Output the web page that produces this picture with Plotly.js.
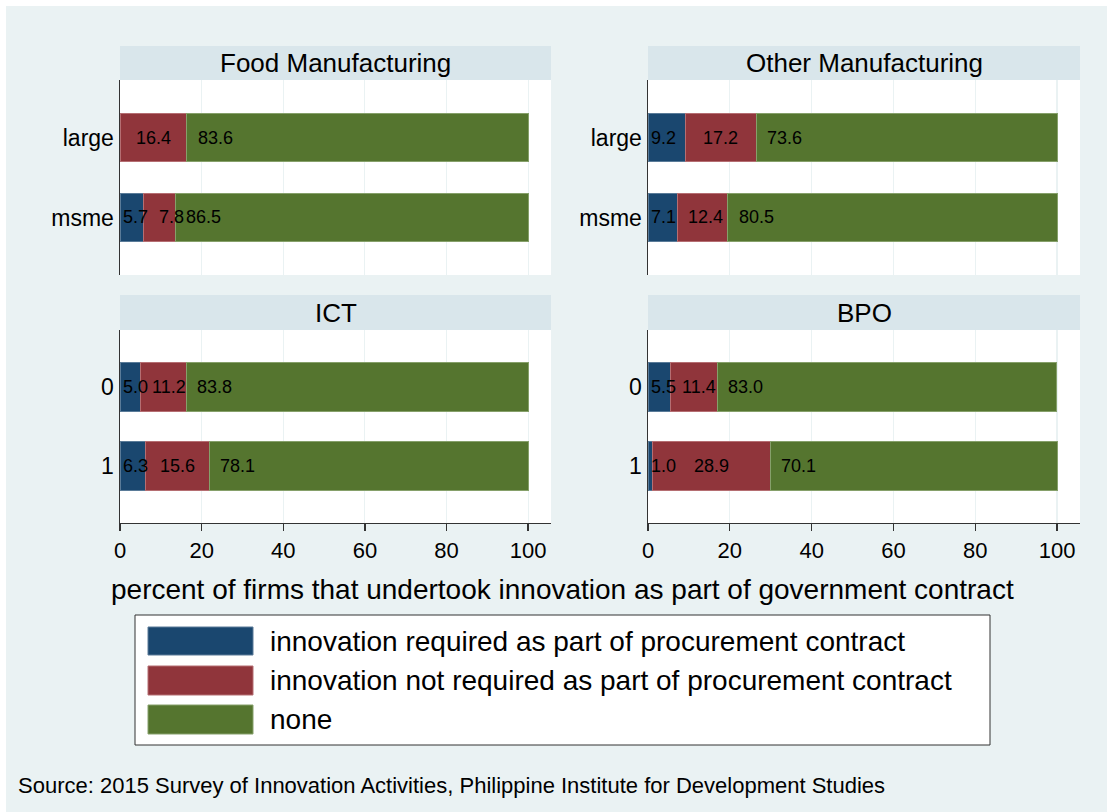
<!DOCTYPE html>
<html>
<head>
<meta charset="utf-8">
<script src="https://cdn.plot.ly/plotly-3.0.1.min.js"></script>
<style>html,body{margin:0;padding:0;background:#fff;}#chart{width:1107px;height:812px;}</style>
</head>
<body>
<div id="chart"></div>
<script>
// ---- data ----
const panelTitles = ['Food Manufacturing', 'Other Manufacturing', 'ICT', 'BPO'];
const sizeCategories = ['large', 'msme'];
const flagCategories = ['0', '1'];
const seriesNames = [
  'innovation required as part of procurement contract',
  'innovation not required as part of procurement contract',
  'none'
];
const foodRequired = [0.0, 5.7];
const foodNotRequired = [16.4, 7.8];
const foodNone = [83.6, 86.5];
const otherRequired = [9.2, 7.1];
const otherNotRequired = [17.2, 12.4];
const otherNone = [73.6, 80.5];
const ictRequired = [5.0, 6.3];
const ictNotRequired = [11.2, 15.6];
const ictNone = [83.8, 78.1];
const bpoRequired = [5.5, 1.0];
const bpoNotRequired = [11.4, 28.9];
const bpoNone = [83.0, 70.1];
const xTicks = [0, 20, 40, 60, 80, 100];
const axisTitle = 'percent of firms that undertook innovation as part of government contract';
const sourceNote = 'Source: 2015 Survey of Innovation Activities, Philippine Institute for Development Studies';

// ---- styling ----
const W = 1107, H = 812;
const FONT = 'Liberation Sans, Arial, Helvetica, sans-serif';
const colors = ['#1A476F', '#90353B', '#55752F'];
const outline = ['#5a7b98', '#b56e72', '#86a06a'];
const bg = '#EAF2F3', strip = '#D9E6EB', axisCol = '#333333';
const px = x => x / W;
const py = y => 1 - y / H;

const panels = [
  {cats: sizeCategories, series: [foodRequired, foodNotRequired, foodNone]},
  {cats: sizeCategories, series: [otherRequired, otherNotRequired, otherNone]},
  {cats: flagCategories, series: [ictRequired, ictNotRequired, ictNone]},
  {cats: flagCategories, series: [bpoRequired, bpoNotRequired, bpoNone]}
];
const colBox = [[120, 551], [648, 1080]];
const rowBox = [{strip: [46, 80], plot: [80, 275]}, {strip: [295, 330], plot: [330, 523]}];
// label centre, in axis units from the segment's start
function labelOffset(k, v) {
  if (k === 0) return 3.8;
  return v < 40 ? Math.max(7, v / 2) : 7;
}

const traces = [];
const annotations = [];
const shapes = [];
const layout = {
  width: W, height: H,
  margin: {l: 0, r: 0, t: 0, b: 0},
  paper_bgcolor: bg,
  plot_bgcolor: '#ffffff',
  barmode: 'stack',
  bargap: 0.39,
  showlegend: false,
  font: {family: FONT, color: '#000'}
};

// white outer border
shapes.push({type: 'rect', xref: 'paper', yref: 'paper', x0: 0, x1: px(6), y0: 0, y1: 1, fillcolor: '#fff', line: {width: 0}, layer: 'below'});
shapes.push({type: 'rect', xref: 'paper', yref: 'paper', x0: 0, x1: 1, y0: py(6), y1: 1, fillcolor: '#fff', line: {width: 0}, layer: 'below'});

panels.forEach((p, i) => {
  const n = i + 1;
  const sfx = n === 1 ? '' : String(n);
  const col = colBox[i % 2];
  const row = rowBox[Math.floor(i / 2)];
  const bottom = i >= 2;
  layout['xaxis' + sfx] = {
    domain: [px(col[0]), px(col[1])],
    anchor: 'y' + sfx,
    range: [0, 105.6],
    tickvals: xTicks,
    showgrid: true, gridcolor: bg, gridwidth: 1.2,
    zeroline: false,
    showline: bottom, linecolor: axisCol, linewidth: 1.3,
    ticks: bottom ? 'outside' : '', ticklen: 7, tickcolor: axisCol, tickwidth: 1.3,
    showticklabels: bottom,
    tickfont: {family: FONT, size: 22, color: '#000'},
    fixedrange: true
  };
  layout['yaxis' + sfx] = {
    domain: [py(row.plot[1]), py(row.plot[0])],
    anchor: 'x' + sfx,
    type: 'category',
    categoryorder: 'array', categoryarray: p.cats,
    range: [1.72, -0.72],
    showgrid: false, zeroline: false,
    showline: true, linecolor: axisCol, linewidth: 1.5,
    ticks: '', ticklabelstandoff: 0,
    tickfont: {family: FONT, size: 23, color: '#000'},
    fixedrange: true
  };
  p.series.forEach((vals, k) => {
    traces.push({
      type: 'bar', orientation: 'h',
      x: vals, y: p.cats,
      xaxis: 'x' + sfx, yaxis: 'y' + sfx,
      name: seriesNames[k],
      marker: {color: colors[k], line: {color: outline[k], width: 1}},
      hoverinfo: 'skip'
    });
  });
  // bar labels
  p.cats.forEach((c, j) => {
    let start = 0;
    p.series.forEach((vals, k) => {
      const v = vals[j];
      if (v > 0) {
        annotations.push({
          xref: 'x' + sfx, yref: 'y' + sfx,
          x: start + labelOffset(k, v), y: c,
          text: v.toFixed(1), showarrow: false,
          xanchor: 'center', yanchor: 'middle',
          font: {family: FONT, size: 18, color: '#000'}
        });
      }
      start += v;
    });
  });
  // strip
  shapes.push({type: 'rect', xref: 'paper', yref: 'paper',
    x0: px(col[0]), x1: px(col[1]), y0: py(row.strip[1]), y1: py(row.strip[0]),
    fillcolor: strip, line: {width: 0}, layer: 'below'});
  annotations.push({xref: 'paper', yref: 'paper',
    x: px((col[0] + col[1]) / 2), y: py((row.strip[0] + row.strip[1]) / 2),
    text: panelTitles[i], showarrow: false, xanchor: 'center', yanchor: 'middle',
    font: {family: FONT, size: 26, color: '#000'}});
});

// axis title
annotations.push({xref: 'paper', yref: 'paper', x: px(562), y: py(589), text: axisTitle,
  showarrow: false, xanchor: 'center', yanchor: 'middle', font: {family: FONT, size: 28, color: '#000'}});

// legend
shapes.push({type: 'rect', xref: 'paper', yref: 'paper', x0: px(135), x1: px(990), y0: py(745), y1: py(615),
  fillcolor: '#fff', line: {color: axisCol, width: 1}});
const legRows = [[627, 655], [666, 695], [705, 734]];
seriesNames.forEach((name, k) => {
  const r = legRows[k];
  shapes.push({type: 'rect', xref: 'paper', yref: 'paper', x0: px(148), x1: px(253), y0: py(r[1]), y1: py(r[0]),
    fillcolor: colors[k], line: {color: outline[k], width: 1}});
  annotations.push({xref: 'paper', yref: 'paper', x: px(268), y: py((r[0] + r[1]) / 2), text: name,
    showarrow: false, xanchor: 'left', yanchor: 'middle', font: {family: FONT, size: 28, color: '#000'}});
});

// source
annotations.push({xref: 'paper', yref: 'paper', x: px(16), y: py(785), text: sourceNote,
  showarrow: false, xanchor: 'left', yanchor: 'middle', font: {family: FONT, size: 22, color: '#000'}});

layout.shapes = shapes;
layout.annotations = annotations;
Plotly.newPlot('chart', traces, layout, {displayModeBar: false, staticPlot: true});
</script>
</body>
</html>
